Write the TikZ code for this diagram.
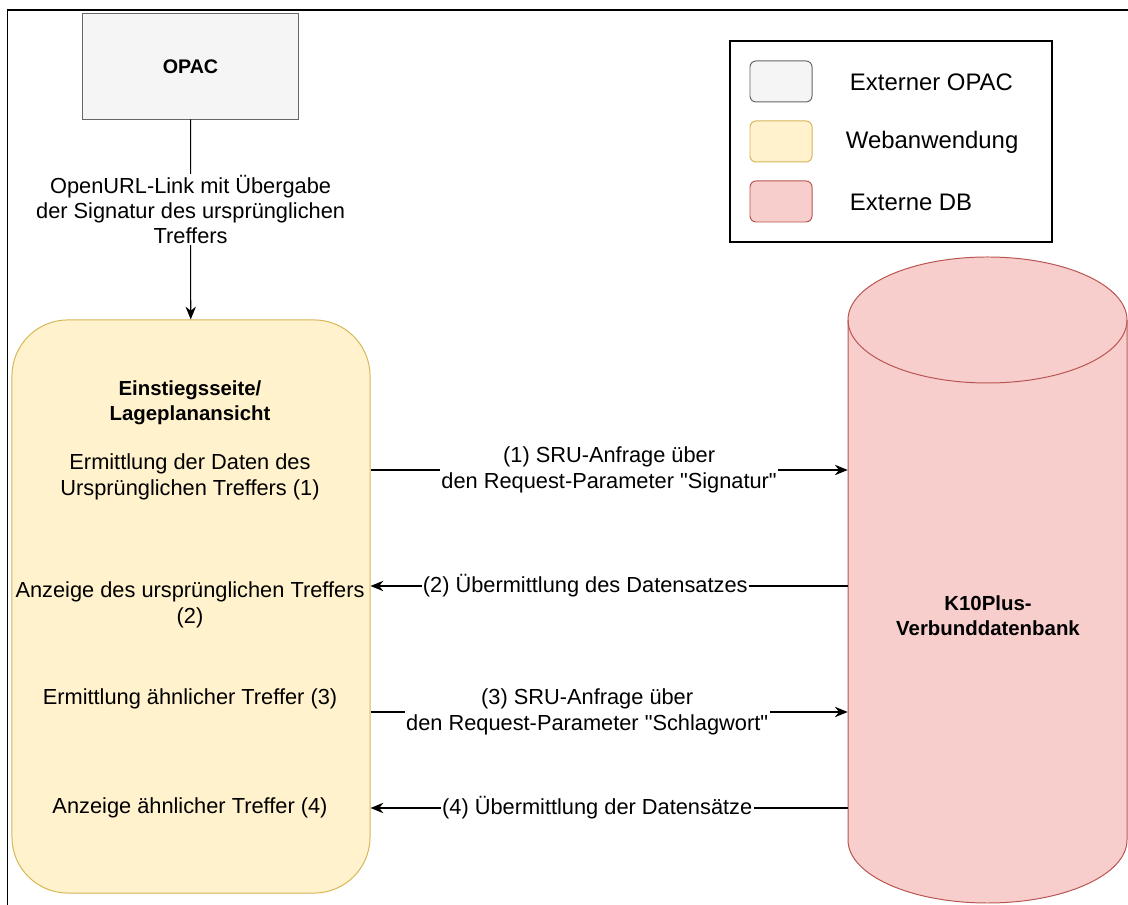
\documentclass[tikz,border=0pt]{standalone}
\usepackage{fontspec}
\setmainfont{Liberation Sans}
\usepackage{tikz}
\usetikzlibrary{arrows.meta}

\definecolor{opacfill}{HTML}{F5F5F5}
\definecolor{opacline}{HTML}{666666}
\definecolor{appfill}{HTML}{FFF2CC}
\definecolor{appline}{HTML}{D6B656}
\definecolor{dbfill}{HTML}{F8CECC}
\definecolor{dbline}{HTML}{B85450}

\tikzset{
  every node/.style={font=\fontsize{15.5}{18}\selectfont},
  flow/.style={-{Stealth[length=0.32cm,width=0.26cm]}, line width=0.75pt},
  lbl/.style={fill=white, inner sep=1pt, align=center},
  swatch/.style={rounded corners=0.15cm, minimum width=1.55cm, minimum height=1.025cm, line width=0.7pt},
  legtext/.style={anchor=west, font=\fontsize{17}{20}\selectfont}
}

\begin{document}
\begin{tikzpicture}[x=0.025cm, y=0.025cm]
        \useasboundingbox (0,0) rectangle (1128,905);
        \draw[line width=1.2pt] (7.5,0) -- (7.5,895) -- (1128,895);

        \node[draw=opacline, fill=opacfill, line width=0.7pt, minimum width=5.375cm, minimum height=2.625cm,
              font=\fontsize{14}{17}\selectfont\bfseries] (opac) at (190.5,838.5) {OPAC};

        \node[draw=appline, fill=appfill, line width=0.7pt, rounded corners=1.4cm,
              minimum width=8.95cm, minimum height=14.325cm] (app) at (191,298.5) {};
        \node[align=center, font=\fontsize{14.5}{17.5}\selectfont\bfseries] (t0) at (190,502) {Einstiegsseite/\\Lageplanansicht};
        \node[align=center] (t1) at (190,428) {Ermittlung der Daten des\\Ursprünglichen Treffers (1)};
        \node[align=center] (t2) at (190,300) {Anzeige des ursprünglichen Treffers\\(2)};
        \node (t3) at (190,206) {Ermittlung ähnlicher Treffer (3)};
        \node (t4) at (190,97) {Anzeige ähnlicher Treffer (4)};

        \filldraw[fill=dbfill, draw=dbline, line width=0.7pt] (848,585) -- (848,65)
          arc[start angle=180, end angle=360, x radius=139.5, y radius=63] -- (1127,585)
          arc[start angle=0, end angle=180, x radius=139.5, y radius=63] -- cycle;
        \draw[dbline, line width=0.7pt] (848,585) arc[start angle=180, end angle=360, x radius=139.5, y radius=63];
        \node[minimum width=6.975cm, minimum height=16.15cm] (db) at (987.5,325) {};
        \node[align=center, font=\fontsize{14.5}{17.5}\selectfont\bfseries] (dbname) at (988,289) {K10Plus-\\Verbunddatenbank};

        \draw[flow] (opac) -- node[lbl, pos=0.45] {OpenURL-Link mit Übergabe\\der Signatur des ursprünglichen\\Treffers} (app);
        \draw[flow] (app.east |- 0,435) -- node[lbl] {(1) SRU-Anfrage über\\den Request-Parameter \textquotedbl Signatur\textquotedbl} (db.west |- 0,435);
        \draw[flow] (db.west |- 0,319) -- node[lbl, pos=0.55] {(2) Übermittlung des Datensatzes} (app.east |- 0,319);
        \draw[flow] (app.east |- 0,193) -- node[lbl, pos=0.454] {(3) SRU-Anfrage über\\den Request-Parameter \textquotedbl Schlagwort\textquotedbl} (db.west |- 0,193);
        \draw[flow] (db.west |- 0,97) -- node[lbl, pos=0.525] {(4) Übermittlung der Datensätze} (app.east |- 0,97);

        \node[draw, line width=1.2pt, minimum width=8.05cm, minimum height=5.025cm] (legend) at (891,763.5) {};
        \node[swatch, draw=opacline, fill=opacfill] (s1) at (781,823.5) {};
        \node[swatch, draw=appline, fill=appfill] (s2) at (781,763.5) {};
        \node[swatch, draw=dbline, fill=dbfill] (s3) at (781,703.5) {};
        \node[legtext] (l1) at (845,823) {Externer OPAC};
        \node[legtext] (l2) at (841,763) {Webanwendung};
        \node[legtext] (l3) at (845,703) {Externe DB};
      \end{tikzpicture}
\end{document}
